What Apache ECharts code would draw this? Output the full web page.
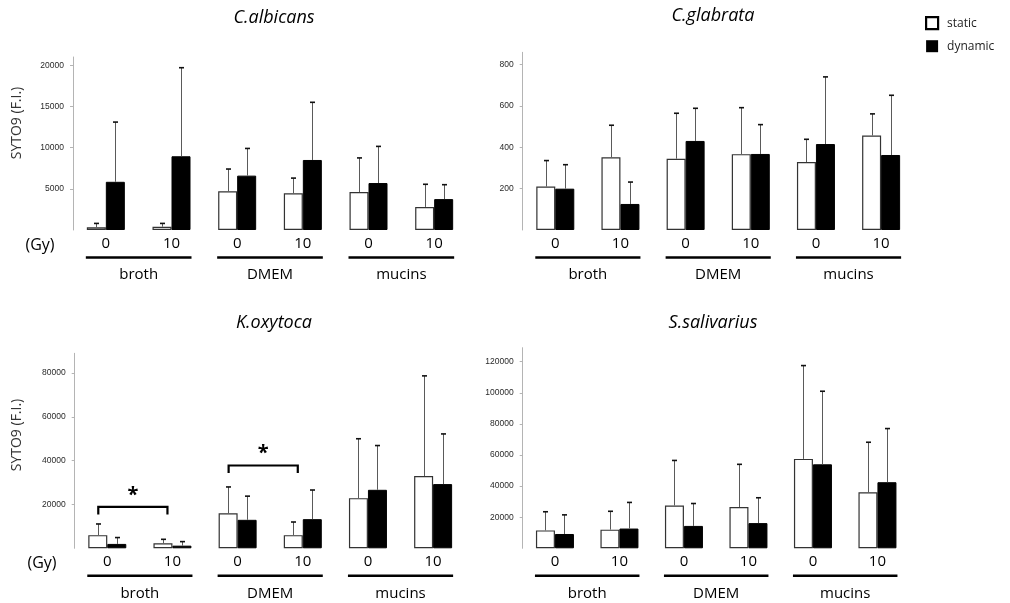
<!DOCTYPE html>
<html>
<head>
<meta charset="utf-8">
<script src="https://cdn.jsdelivr.net/npm/echarts@6/dist/echarts.min.js"></script>
<style>
  html, body { margin: 0; padding: 0; background: #fff; }
  #chart { width: 1010px; height: 603px; }
</style>
</head>
<body>
<div id="chart"></div>
<script>
// Dose (Gy) under each bar pair, and the growth medium grouping
const doseLabels = ['0', '10', '0', '10', '0', '10'];
const mediaLabels = ['broth', 'DMEM', 'mucins'];
const seriesNames = ['static', 'dynamic'];

// C.albicans: means and upper error-bar ends
const albicansStatic = [330, 400, 4700, 4450, 4600, 2800];
const albicansStaticErr = [800, 800, 7400, 6300, 8750, 5550];
const albicansDynamic = [5850, 8950, 6600, 8500, 5700, 3750];
const albicansDynamicErr = [13100, 19700, 9900, 15500, 10150, 5500];
const albicansTicks = [5000, 10000, 15000, 20000];

// C.glabrata
const glabrataStatic = [210, 352, 345, 367, 329, 457];
const glabrataStaticErr = [336, 507, 565, 592, 439, 562];
const glabrataDynamic = [200, 126, 431, 368, 416, 363];
const glabrataDynamicErr = [316, 232, 589, 510, 741, 652];
const glabrataTicks = [200, 400, 600, 800];

// K.oxytoca
const oxytocaStatic = [6000, 2300, 16000, 6000, 22900, 33000];
const oxytocaStaticErr = [11100, 4100, 28000, 12000, 50000, 78700];
const oxytocaDynamic = [2000, 1200, 13000, 13300, 26700, 29300];
const oxytocaDynamicErr = [4900, 3050, 23800, 26600, 46900, 52200];
const oxytocaTicks = [20000, 40000, 60000, 80000];
// significance brackets: [from dose index, bracket level, to dose index]
const oxytocaBrackets = [[0, 18900, 1], [2, 37800, 3]];

// S.salivarius
const salivariusStatic = [11500, 12000, 27500, 26500, 57500, 36000];
const salivariusStaticErr = [23500, 23800, 56500, 54000, 117500, 68200];
const salivariusDynamic = [9200, 12700, 14400, 16200, 54000, 42500];
const salivariusDynamicErr = [21500, 29500, 28800, 32500, 101000, 77000];
const salivariusTicks = [20000, 40000, 60000, 80000, 100000, 120000];

const BAR_W = 19;
const FONT = '"Open Sans", "Liberation Sans", sans-serif';

const panels = [
  { title: 'C.albicans', max: 21000, ticks: albicansTicks,
    s: albicansStatic, se: albicansStaticErr, d: albicansDynamic, de: albicansDynamicErr,
    grid: { left: 73, top: 57, width: 394, height: 173 }, tx: 274, ty: 17.5 },
  { title: 'C.glabrata', max: 860, ticks: glabrataTicks,
    s: glabrataStatic, se: glabrataStaticErr, d: glabrataDynamic, de: glabrataDynamicErr,
    grid: { left: 522.7, top: 52.3, width: 391, height: 177.7 }, tx: 713, ty: 15.5 },
  { title: 'K.oxytoca', max: 89000, ticks: oxytocaTicks,
    s: oxytocaStatic, se: oxytocaStaticErr, d: oxytocaDynamic, de: oxytocaDynamicErr,
    grid: { left: 74.7, top: 353.3, width: 391, height: 195 }, tx: 274, ty: 323 },
  { title: 'S.salivarius', max: 129000, ticks: salivariusTicks,
    s: salivariusStatic, se: salivariusStaticErr, d: salivariusDynamic, de: salivariusDynamicErr,
    grid: { left: 522.7, top: 347.7, width: 387, height: 200.6 }, tx: 713, ty: 322.7 }
];

function errorSeries(gi, means, tops, dx) {
  return {
    type: 'custom', xAxisIndex: gi, yAxisIndex: gi, silent: true, z: 3,
    data: means.map((m, i) => [i, m, tops[i]]),
    renderItem(params, api) {
      const base = api.coord([api.value(0), api.value(1)]);
      const top = api.coord([api.value(0), api.value(2)]);
      const x = Math.round(base[0] + dx) + 0.5;
      return { type: 'group', children: [
        { type: 'line', shape: { x1: x, y1: base[1], x2: x, y2: top[1] },
          style: { stroke: '#5a5a5a', lineWidth: 1 } },
        { type: 'line', shape: { x1: x - 2.5, y1: top[1], x2: x + 2.5, y2: top[1] },
          style: { stroke: '#111', lineWidth: 1.6 } }
      ] };
    }
  };
}

// underline and name of each medium, spanning its two dose pairs
function mediaSeries(gi) {
  return {
    type: 'custom', xAxisIndex: gi, yAxisIndex: gi, silent: true, clip: false,
    data: mediaLabels.map((m, g) => [2 * g, 0, 2 * g + 1]),
    renderItem(params, api) {
      const a = api.coord([api.value(0), 0]);
      const b = api.coord([api.value(2), 0]);
      const y = a[1] + 27.5;
      return { type: 'group', children: [
        { type: 'line', shape: { x1: a[0] - 20, y1: y, x2: b[0] + 20, y2: y },
          style: { stroke: '#000', lineWidth: 2.5 } },
        { type: 'text', style: { text: mediaLabels[params.dataIndex], x: (a[0] + b[0]) / 2, y: a[1] + 45,
          align: 'center', verticalAlign: 'middle', fontSize: 15, fontFamily: FONT, fill: '#000' } }
      ] };
    }
  };
}

function bracketSeries(gi, data) {
  return {
    type: 'custom', xAxisIndex: gi, yAxisIndex: gi, silent: true, clip: false, z: 4,
    data: data,
    renderItem(params, api) {
      const a = api.coord([api.value(0), api.value(1)]);
      const b = api.coord([api.value(2), api.value(1)]);
      const x1 = a[0] - 9, x2 = b[0] - 5, y = a[1];
      return { type: 'group', children: [
        { type: 'polyline', shape: { points: [[x1, y + 7.5], [x1, y], [x2, y], [x2, y + 7.5]] },
          style: { stroke: '#000', lineWidth: 2.2, fill: null } },
        { type: 'text', style: { text: '*', x: (x1 + x2) / 2, y: y - 12, align: 'center', verticalAlign: 'middle',
          fontSize: 20, fontWeight: 'bold', fontFamily: FONT, fill: '#000' } }
      ] };
    }
  };
}

const grid = [], xAxis = [], yAxis = [], series = [], graphic = [];

panels.forEach((p, gi) => {
  grid.push(Object.assign({ containLabel: false }, p.grid));
  xAxis.push({
    type: 'category', gridIndex: gi, data: doseLabels,
    axisLine: { show: false }, axisTick: { show: false },
    axisLabel: { fontSize: 15, color: '#000', fontFamily: FONT, margin: 6 }
  });
  yAxis.push({
    type: 'value', gridIndex: gi, min: 0, max: p.max,
    axisLine: { show: true, lineStyle: { color: '#b4b4b4', width: 1 } },
    axisTick: { show: true, length: 3, customValues: p.ticks, lineStyle: { color: '#b4b4b4' } },
    axisLabel: { customValues: p.ticks, formatter: (v) => String(v), fontSize: 8.5, color: '#2a2a2a',
      fontFamily: '"Liberation Sans", Arial, sans-serif', margin: 9 },
    splitLine: { show: false }
  });
  series.push({
    type: 'bar', name: seriesNames[0], xAxisIndex: gi, yAxisIndex: gi, data: p.s,
    barWidth: BAR_W, barGap: '0%', silent: true,
    itemStyle: { color: '#fff', borderColor: '#333', borderWidth: 1.2 }
  });
  series.push({
    type: 'bar', name: seriesNames[1], xAxisIndex: gi, yAxisIndex: gi, data: p.d,
    barWidth: BAR_W, barGap: '0%', silent: true,
    itemStyle: { color: '#000', borderColor: '#000', borderWidth: 1 }
  });
  series.push(errorSeries(gi, p.s, p.se, -BAR_W / 2));
  series.push(errorSeries(gi, p.d, p.de, BAR_W / 2));
  series.push(mediaSeries(gi));
  graphic.push({ type: 'text', x: p.tx, y: p.ty, silent: true,
    style: { text: p.title, align: 'center', verticalAlign: 'middle', fontSize: 18, fontStyle: 'italic',
      fontFamily: FONT, fill: '#000' } });
});

series.push(bracketSeries(2, oxytocaBrackets));

// dose unit and y-axis names on the left column
[[40, 245, 17, 123], [42, 563, 17, 435]].forEach(([gx, gy, nx, ny]) => {
  graphic.push({ type: 'text', x: gx, y: gy, silent: true,
    style: { text: '(Gy)', align: 'center', verticalAlign: 'middle', fontSize: 16, fontFamily: FONT, fill: '#000' } });
  graphic.push({ type: 'text', x: nx, y: ny, rotation: Math.PI / 2, silent: true,
    style: { text: 'SYTO9 (F.I.)', align: 'center', verticalAlign: 'middle', fontSize: 14, fontFamily: FONT, fill: '#333' } });
});

const chart = echarts.init(document.getElementById('chart'), null, { renderer: 'canvas' });
chart.setOption({
  animation: false,
  backgroundColor: '#fff',
  legend: {
    data: [
      { name: 'static', itemStyle: { color: '#fff', borderColor: '#000', borderWidth: 2.2 } },
      { name: 'dynamic', itemStyle: { color: '#000', borderColor: '#000', borderWidth: 0 } }
    ],
    orient: 'vertical', left: 925, top: 16, padding: 0,
    itemWidth: 12, itemHeight: 12, itemGap: 10, icon: 'rect', selectedMode: false,
    textStyle: { fontSize: 12, fontFamily: FONT, color: '#222', padding: [0, 0, 0, 4] }
  },
  grid, xAxis, yAxis, series, graphic
});
</script>
</body>
</html>
